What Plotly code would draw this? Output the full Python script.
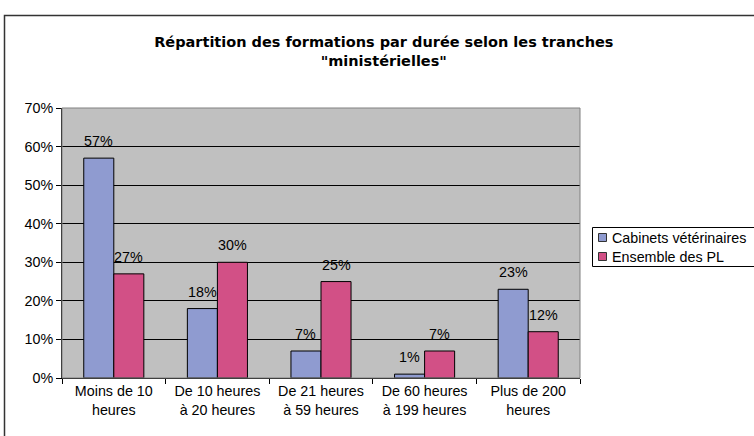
import plotly.graph_objects as go

categories = ["Moins de 10<br>heures", "De 10 heures<br>à 20 heures", "De 21 heures<br>à 59 heures",
              "De 60 heures<br>à 199 heures", "Plus de 200<br>heures"]
cabinets = [57, 18, 7, 1, 23]
ensemble = [27, 30, 25, 7, 12]
series_names = ["Cabinets vétérinaires", "Ensemble des PL"]
y_ticks = [0, 10, 20, 30, 40, 50, 60, 70]

FONT = "Liberation Sans, Arial, sans-serif"
TFONT = "DejaVu Sans, Arial, sans-serif"
FS = 14.3
colors = ["#8F9BD0", "#D25086"]

# plot area in pixels
L, R, T, B = 62, 580, 108, 378
PW, PH = R - L, B - T
BARGAP = 0.42
cat_w = PW / len(categories)
bar_w = cat_w * (1 - BARGAP) / 2


def px(x):
    return (x - L) / PW


def py(y):
    return (B - y) / PH


fig = go.Figure()
for k, (name, vals, col) in enumerate(zip(series_names, [cabinets, ensemble], colors)):
    fig.add_trace(go.Bar(
        x=categories, y=vals, name=name,
        marker=dict(color=col, line=dict(color="black", width=1)),
    ))
    shift = (k - 0.5) * bar_w
    for c, v in zip(categories, vals):
        fig.add_annotation(x=c, y=v, text=f"{v}%", showarrow=False,
                           xshift=shift, yshift=17, yanchor="middle",
                           font=dict(family=FONT, size=FS, color="black"))

fig.update_layout(
    width=754, height=436,
    margin=dict(l=L, r=754 - R, t=T, b=436 - B, autoexpand=False),
    paper_bgcolor="white", plot_bgcolor="#C0C0C0",
    barmode="group", bargap=BARGAP, bargroupgap=0,
    font=dict(family=FONT, size=FS, color="black"),
    title=dict(text="<b>Répartition des formations par durée selon les tranches<br>\"ministérielles\"</b>",
               x=0.509, xanchor="center", y=1 - 47 / 436, yanchor="middle", yref="container",
               font=dict(family=TFONT, size=14.5, color="black")),
    showlegend=False,
)
fig.update_yaxes(range=[0, 70], tickvals=y_ticks, ticktext=[f"{v}%" for v in y_ticks],
                 showgrid=True, gridcolor="black", gridwidth=1,
                 showline=True, linecolor="black", linewidth=1,
                 ticks="outside", ticklen=5, tickcolor="black",
                 tickfont=dict(family=FONT, size=FS, color="black"), zeroline=False)
fig.update_xaxes(showline=True, linecolor="black", linewidth=1,
                 ticks="outside", tickson="boundaries", ticklen=5, tickcolor="black",
                 tickfont=dict(family=FONT, size=FS, color="black"))

# plot area border
fig.add_shape(type="rect", xref="x domain", yref="y domain", x0=0, x1=1, y0=0, y1=1,
              line=dict(color="#808080", width=1), layer="above")
# outer chart border
fig.add_shape(type="rect", xref="paper", yref="paper",
              x0=px(4.5), x1=px(760), y0=py(445), y1=py(15.5),
              line=dict(color="#333333", width=1.5))

# legend (drawn manually, Excel style)
fig.add_shape(type="rect", xref="paper", yref="paper",
              x0=px(592.5), x1=px(770), y0=py(266.5), y1=py(227.5),
              line=dict(color="black", width=1), fillcolor="white")
for i, (name, col) in enumerate(zip(series_names, colors)):
    yc = 237.5 + i * 19
    fig.add_shape(type="rect", xref="paper", yref="paper",
                  x0=px(598.5), x1=px(606.5), y0=py(yc + 4), y1=py(yc - 4),
                  line=dict(color="#333333", width=1), fillcolor=col)
    fig.add_annotation(text=name, xref="paper", yref="paper", x=px(610), y=py(yc),
                       xanchor="left", yanchor="middle", showarrow=False,
                       font=dict(family=FONT, size=FS, color="black"))

fig.write_html("out.html", config={"displayModeBar": False},
               post_script="document.body.style.margin='0px';")
